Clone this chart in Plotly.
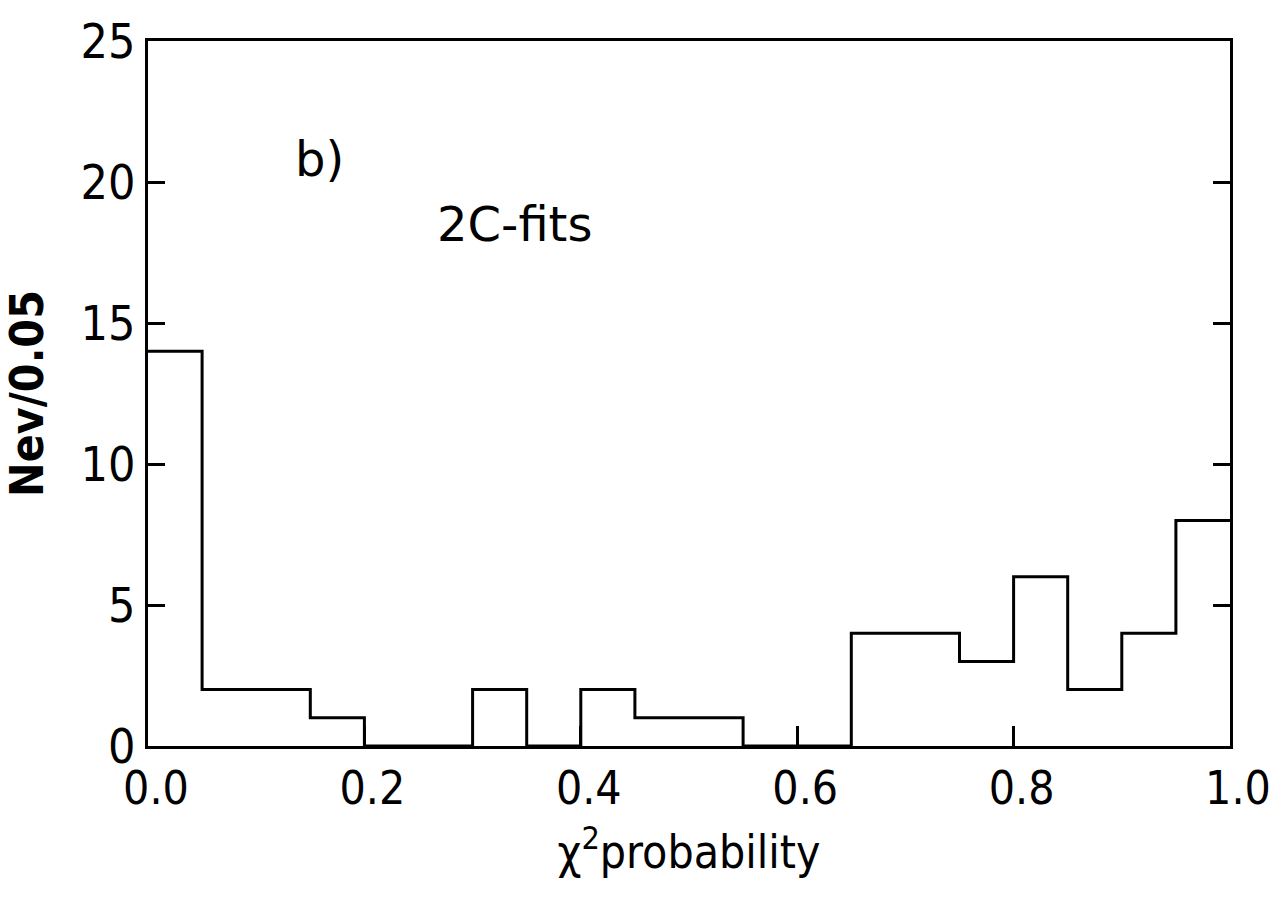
import plotly.graph_objects as go

# Histogram of chi^2 probability, bins of width 0.05
bin_edges = [0.00, 0.05, 0.10, 0.15, 0.20, 0.25, 0.30, 0.35, 0.40, 0.45, 0.50,
             0.55, 0.60, 0.65, 0.70, 0.75, 0.80, 0.85, 0.90, 0.95, 1.00]
counts = [14, 2, 2, 1, 0, 0, 2, 0, 2, 1, 1, 0, 0, 4, 4, 3, 6, 2, 4, 8]

x_ticks = [0.0, 0.2, 0.4, 0.6, 0.8, 1.0]
x_ticktext = ["0.0", "0.2", "0.4", "0.6", "0.8", "1.0"]
y_ticks = [0, 5, 10, 15, 20, 25]

FONT = "Liberation Sans Narrow, DejaVu Sans Condensed, Arial Narrow, sans-serif"
TFONT = "DejaVu Sans, sans-serif"

step_y = counts + [counts[-1]]

fig = go.Figure()
fig.add_trace(go.Scatter(
    x=bin_edges, y=step_y, mode="lines",
    line=dict(shape="hv", color="black", width=3),
    showlegend=False, hoverinfo="skip",
))

fig.update_layout(
    width=1272, height=910,
    margin=dict(l=148, r=42, t=41, b=164),
    paper_bgcolor="white", plot_bgcolor="white",
    font=dict(family=FONT, color="black", size=46),
    xaxis=dict(
        range=[0, 1], tickvals=x_ticks, ticktext=x_ticktext,
        ticks="inside", ticklen=20, tickwidth=3, tickcolor="black",
        showline=True, linecolor="black", linewidth=3, mirror=True,
        showgrid=False, zeroline=False, automargin=False,
        ticklabelshift=8, ticklabeloverflow="allow",
        tickfont=dict(size=46, family=FONT),
        title=dict(text="χ<sup>2</sup>probability",
                   font=dict(size=46, family="DejaVu Sans Condensed, sans-serif"), standoff=22),
    ),
    yaxis=dict(
        range=[0, 25], tickvals=y_ticks,
        ticks="inside", ticklen=17, tickwidth=3, tickcolor="black",
        showline=True, linecolor="black", linewidth=3, mirror="ticks",
        showgrid=False, zeroline=False, automargin=False,
        tickfont=dict(size=48, family=FONT),
        title=dict(text="<b>Nev/0.05</b>",
                   font=dict(size=46, family="DejaVu Sans Condensed, sans-serif"), standoff=32),
    ),
    annotations=[
        dict(x=0.134, y=20.8, xref="x", yref="y", text="b)", showarrow=False,
             xanchor="left", yanchor="middle", font=dict(size=48, family=TFONT)),
        dict(x=0.265, y=18.5, xref="x", yref="y", text="2C-fits", showarrow=False,
             xanchor="left", yanchor="middle", font=dict(size=48, family=TFONT)),
    ],
)

fig.write_html("out.html")
